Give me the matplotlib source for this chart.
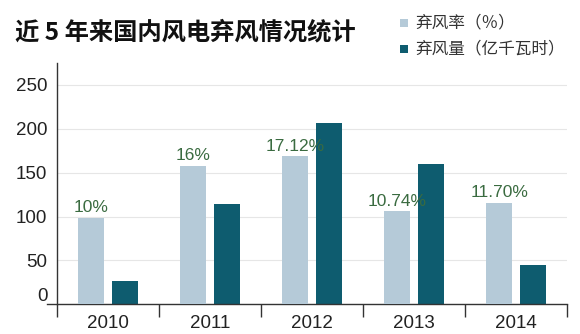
import matplotlib
matplotlib.use("Agg")
import matplotlib.pyplot as plt
import matplotlib.transforms as mtransforms
from matplotlib.patches import Rectangle
import numpy as np

# Data
years = ["2010", "2011", "2012", "2013", "2014"]
curtail_rate = [10, 16, 17.12, 10.74, 11.70]          # 弃风率 (%)
rate_labels = ["10%", "16%", "17.12%", "10.74%", "11.70%"]
curtail_volume = [27, 114, 207, 160, 45]             # 弃风量 (亿千瓦时)
y_ticks = [0, 50, 100, 150, 200, 250]
legend_labels = ["弃风率（％）", "弃风量（亿千瓦时）"]

LIGHT = "#b5cad8"
DARK = "#0e5c6f"
LABEL_GREEN = "#3a6b40"
TEXT = "#222222"
CJK = ["Noto Sans CJK SC", "DejaVu Sans"]
NUM = ["Liberation Sans", "DejaVu Sans"]

W, H = 580, 334
fig = plt.figure(figsize=(W / 100, H / 100), dpi=100)
fig.patch.set_facecolor("white")

ax_left, ax_right = 57 / W, 567 / W
ax_bottom, ax_top = (H - 304.3) / H, (H - 63) / H
ax = fig.add_axes([ax_left, ax_bottom, ax_right - ax_left, ax_top - ax_bottom])
ax2 = ax.twinx()

x = np.arange(len(years))
bw = 0.25
off = 0.165
ymax = 275
ax.set_xlim(-0.5, len(years) - 0.5)
ax.set_ylim(0, ymax)
# percentage bars share the panel, scaled so 1 % ≈ 9.85 units
ax2.set_ylim(0, ymax / 9.85)

ax2.bar(x - off, curtail_rate, width=bw, color=LIGHT, zorder=2)
ax.bar(x + off, curtail_volume, width=bw, color=DARK, zorder=2)

for xi, r, lab in zip(x, curtail_rate, rate_labels):
    ax2.annotate(lab, (xi - off, r), xytext=(0, 2), textcoords="offset points",
                 ha="center", va="bottom", fontsize=12.5, color=LABEL_GREEN,
                 family=NUM, zorder=4)

# grid
ax.set_yticks(y_ticks)
ax.yaxis.grid(True, color="#e6e6e6", linewidth=0.8, zorder=0)
ax.set_axisbelow(True)
for s in ["top", "right", "bottom", "left"]:
    ax.spines[s].set_visible(False)
    ax2.spines[s].set_visible(False)
ax2.set_yticks([])
ax2.tick_params(left=False, right=False, labelright=False)

# y tick labels
ax.tick_params(axis="y", length=0, pad=7, labelsize=13.5, labelcolor=TEXT)
for t in ax.get_yticklabels():
    t.set_family(NUM)
zero_lab = ax.get_yticklabels()[0]
zero_lab.set_transform(zero_lab.get_transform() +
                       mtransforms.ScaledTranslation(0, 10 / 100, fig.dpi_scale_trans))

# x ticks: labels at centres, separators at category boundaries
ax.set_xticks(x)
ax.set_xticklabels(years, family=NUM)
ax.tick_params(axis="x", which="major", length=0, pad=8, labelsize=13.5, labelcolor=TEXT)
ax.set_xticks(np.arange(-0.5, len(years), 1.0), minor=True)
ax.tick_params(axis="x", which="minor", length=9.5, width=1.0, color="#333333", direction="out")

# axis lines
ax.plot([-10 / (ax_right - ax_left) / W, 1], [0, 0], transform=ax.transAxes,
        color="#333333", lw=1.0, clip_on=False, zorder=5)
ax.plot([0, 0], [0, 1], transform=ax.transAxes, color="#333333", lw=1.0,
        clip_on=False, zorder=5)

# title
fig.text(15 / W, 1 - 32 / H, "近 5 年来国内风电弃风情况统计", fontsize=17.5,
         fontweight="bold", family=CJK, color="#111111", ha="left", va="center")

# legend: colour squares with labels
for i, (lab, col) in enumerate(zip(legend_labels, [LIGHT, DARK])):
    yc = 23 + 26 * i
    fig.add_artist(Rectangle((400 / W, 1 - (yc + 4.2) / H), 8.4 / W, 8.4 / H,
                             transform=fig.transFigure, facecolor=col, edgecolor="none"))
    fig.text(415 / W, 1 - yc / H, lab, fontsize=12, family=CJK, color="#333333",
             ha="left", va="center")

fig.savefig("out.png", dpi=100, facecolor="white")
